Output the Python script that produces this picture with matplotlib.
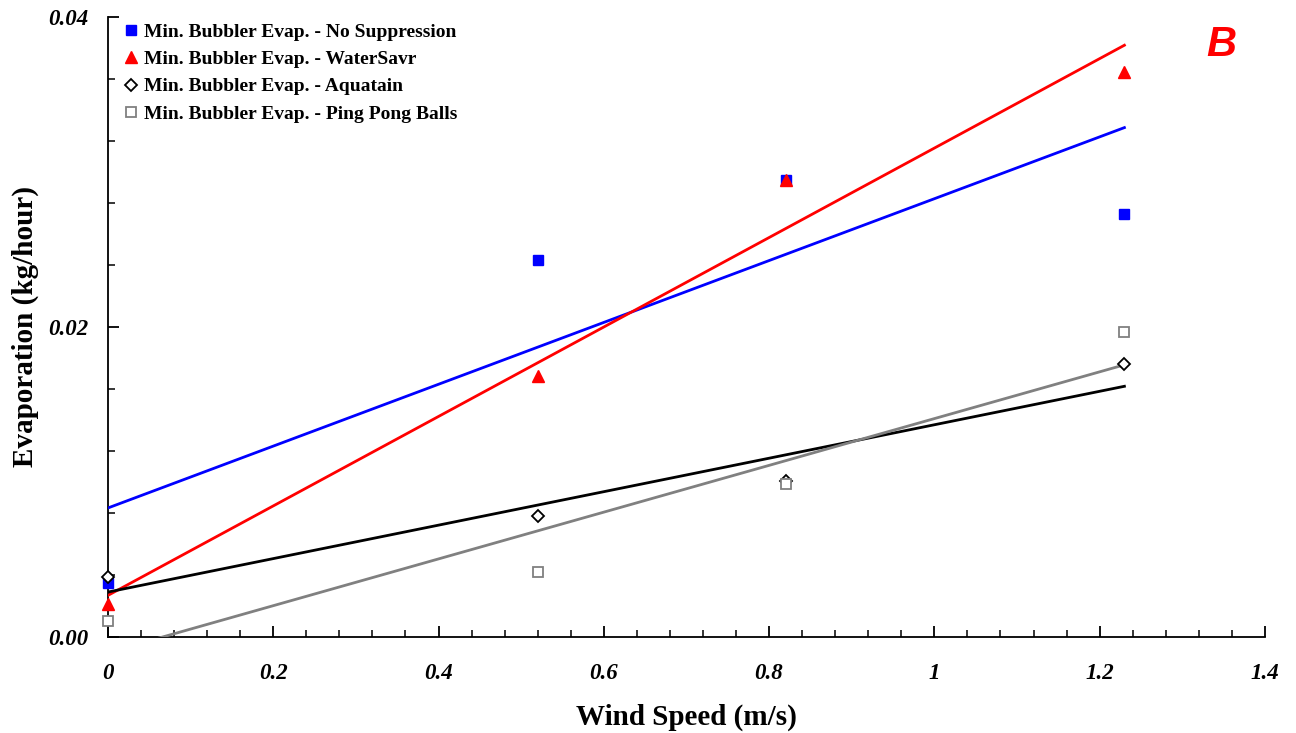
import matplotlib
matplotlib.use("Agg")
import matplotlib.pyplot as plt
from matplotlib.ticker import MultipleLocator, FixedFormatter, FixedLocator
import numpy as np

# wind speed (m/s)
wind = [0.0, 0.52, 0.82, 1.23]

# evaporation (kg/hour)
no_supp = [0.00348, 0.02432, 0.02948, 0.02729]
watersavr = [0.00213, 0.01684, 0.02948, 0.03645]
aquatain = [0.00387, 0.00780, 0.01006, 0.01760]
ping_pong = [0.00103, 0.00420, 0.00987, 0.01968]

labels = ["Min. Bubbler Evap. - No Suppression",
          "Min. Bubbler Evap. - WaterSavr",
          "Min. Bubbler Evap. - Aquatain",
          "Min. Bubbler Evap. - Ping Pong Balls"]

serif = ["Liberation Serif", "DejaVu Serif"]

fig = plt.figure(figsize=(12.96, 7.33), dpi=100)
ax = fig.add_axes([0.0833, 0.131, 0.8927, 0.8458])

series = [
    (no_supp, dict(marker="s", color="blue", mfc="blue", mec="blue", ms=7), "blue"),
    (watersavr, dict(marker="^", color="red", mfc="red", mec="red", ms=8), "red"),
    (aquatain, dict(marker="D", color="black", mfc="white", mec="black", ms=6, mew=1.3), "black"),
    (ping_pong, dict(marker="s", color="gray", mfc="white", mec="gray", ms=7, mew=1.3), "gray"),
]

xfit = np.array([wind[0], wind[-1]])
for (vals, style, lc), lab in zip(series, labels):
    ax.plot(wind, vals, linestyle="none", label=lab, clip_on=False, zorder=4, **style)
    k, b = np.polyfit(wind, vals, 1)
    ax.plot(xfit, k * xfit + b, color=lc, lw=2.0, zorder=3)

ax.set_xlim(0, 1.4)
ax.set_ylim(0, 0.04)

ax.spines["top"].set_visible(False)
ax.spines["right"].set_visible(False)
ax.spines["left"].set_linewidth(1.3)
ax.spines["bottom"].set_linewidth(1.3)

ax.xaxis.set_minor_locator(MultipleLocator(0.04))
ax.yaxis.set_major_locator(FixedLocator([0.0, 0.02, 0.04]))
ax.yaxis.set_major_formatter(FixedFormatter(["0.00", "0.02", "0.04"]))
ax.yaxis.set_minor_locator(MultipleLocator(0.004))
ax.set_xticks(np.arange(0, 1.41, 0.2))
ax.set_xticklabels(["0", "0.2", "0.4", "0.6", "0.8", "1", "1.2", "1.4"])

ax.tick_params(which="major", direction="in", length=8, width=1.3)
ax.tick_params(which="minor", direction="in", length=5, width=1.1)
ax.tick_params(axis="x", which="major", pad=19)
ax.tick_params(axis="y", which="major", pad=14)
for t in ax.get_xticklabels() + ax.get_yticklabels():
    t.set_fontfamily(serif)
    t.set_fontsize(16.5)
    t.set_fontweight("bold")
    t.set_fontstyle("italic")

ax.set_xlabel("Wind Speed (m/s)", family=serif, fontsize=21, fontweight="bold", labelpad=14)
ax.set_ylabel("Evaporation (kg/hour)", family=serif, fontsize=21, fontweight="bold", labelpad=7)

ax.legend(loc="upper left", bbox_to_anchor=(0.0, 1.012), frameon=False,
          prop=dict(family=serif, size=14, weight="bold"),
          handletextpad=0.15, handlelength=1.0, labelspacing=0.5, borderaxespad=0.3)

ax.text(0.962, 0.955, "B", transform=ax.transAxes, color="red",
        family=["Liberation Sans", "DejaVu Sans"], fontsize=30,
        fontweight="bold", fontstyle="italic", ha="center", va="center")

fig.savefig("out.png", dpi=100)
